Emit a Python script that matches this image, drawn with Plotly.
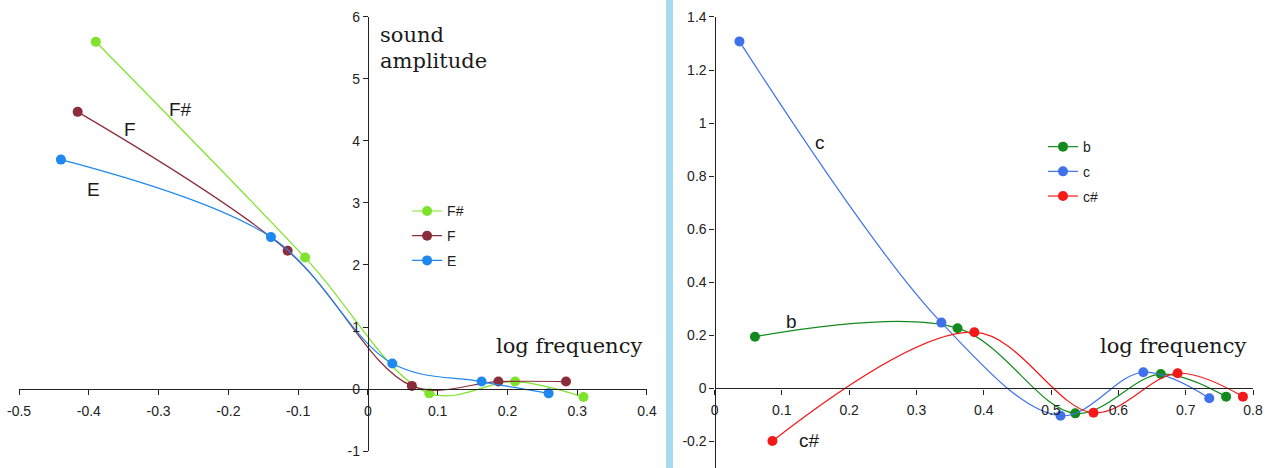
import plotly.graph_objects as go

# ---- left panel: notes E, F, F# ----
fs_x = [-0.390, -0.090, 0.088, 0.211, 0.309]
fs_y = [5.60, 2.12, -0.07, 0.12, -0.13]
f_x = [-0.416, -0.115, 0.063, 0.187, 0.284]
f_y = [4.47, 2.23, 0.05, 0.12, 0.12]
e_x = [-0.440, -0.139, 0.035, 0.163, 0.259]
e_y = [3.70, 2.45, 0.41, 0.12, -0.07]

# ---- right panel: notes b, c, c# ----
b_x = [0.060, 0.361, 0.536, 0.663, 0.760]
b_y = [0.195, 0.227, -0.094, 0.054, -0.031]
c_x = [0.037, 0.337, 0.514, 0.637, 0.735]
c_y = [1.308, 0.248, -0.103, 0.061, -0.037]
cs_x = [0.086, 0.386, 0.563, 0.688, 0.785]
cs_y = [-0.198, 0.212, -0.092, 0.057, -0.031]

# ---- tick values / labels ----
left_xticks = [-0.5, -0.4, -0.3, -0.2, -0.1, 0, 0.1, 0.2, 0.3, 0.4]
left_xlabels = ["-0.5", "-0.4", "-0.3", "-0.2", "-0.1", "0", "0.1", "0.2", "0.3", "0.4"]
left_yticks = [-1, 0, 1, 2, 3, 4, 5, 6]
left_ylabels = ["-1", "0", "1", "2", "3", "4", "5", "6"]
right_xticks = [0, 0.1, 0.2, 0.3, 0.4, 0.5, 0.6, 0.7, 0.8]
right_xlabels = ["0", "0.1", "0.2", "0.3", "0.4", "0.5", "0.6", "0.7", "0.8"]
right_yticks = [-0.2, 0, 0.2, 0.4, 0.6, 0.8, 1.0, 1.2, 1.4]
right_ylabels = ["-0.2", "0", "0.2", "0.4", "0.6", "0.8", "1", "1.2", "1.4"]

SANS = "Liberation Sans, Arial, sans-serif"
SERIF = "DejaVu Serif, serif"
INK = "#222222"

# panel geometry (paper fractions)
L_XDOM, L_XRNG = [0.0148, 0.5027], [-0.5, 0.4]
L_YDOM, L_YRNG = [0.0363, 0.9637], [-1, 6]
R_XDOM, R_XRNG = [0.5552, 0.9736], [0, 0.8]
R_YDOM, R_YRNG = [0.0, 0.9637], [-0.3, 1.4]


def zero_pos(dom, rng):
    """Paper position of value 0 along an axis."""
    return dom[0] + (0 - rng[0]) / (rng[1] - rng[0]) * (dom[1] - dom[0])


fig = go.Figure()


def add_series(x, y, name, color, xa, ya, legend):
    fig.add_trace(go.Scatter(
        x=x, y=y, name=name, mode="lines+markers",
        line=dict(color=color, width=1.2, shape="spline", smoothing=1.0),
        marker=dict(color=color, size=10),
        xaxis=xa, yaxis=ya, legend=legend, legendgroup=name,
        cliponaxis=False,
    ))


add_series(fs_x, fs_y, "F#", "#7ee32a", "x", "y", "legend")
add_series(f_x, f_y, "F", "#8c2d3c", "x", "y", "legend")
add_series(e_x, e_y, "E", "#1e88f0", "x", "y", "legend")
add_series(b_x, b_y, "b", "#138a1e", "x2", "y2", "legend2")
add_series(c_x, c_y, "c", "#3f71ec", "x2", "y2", "legend2")
add_series(cs_x, cs_y, "c#", "#f41818", "x2", "y2", "legend2")

axis_common = dict(
    showline=True, linecolor=INK, linewidth=1.3, ticks="outside", ticklen=5,
    tickwidth=1.2, tickcolor=INK, showgrid=False, zeroline=False,
    tickfont=dict(family=SANS, size=14, color=INK), tickmode="array",
    fixedrange=True, automargin=False,
)

fig.update_layout(
    xaxis=dict(domain=L_XDOM, range=L_XRNG, anchor="free",
               position=zero_pos(L_YDOM, L_YRNG), ticklabelstandoff=4,
               tickvals=left_xticks, ticktext=left_xlabels, **axis_common),
    yaxis=dict(domain=L_YDOM, range=L_YRNG, anchor="free",
               position=zero_pos(L_XDOM, L_XRNG),
               tickvals=left_yticks, ticktext=left_ylabels, **axis_common),
    xaxis2=dict(domain=R_XDOM, range=R_XRNG, anchor="free",
                position=zero_pos(R_YDOM, R_YRNG), ticklabelstandoff=4,
                tickvals=right_xticks, ticktext=right_xlabels, **axis_common),
    yaxis2=dict(domain=R_YDOM, range=R_YRNG, anchor="free",
                position=zero_pos(R_XDOM, R_XRNG),
                tickvals=right_yticks, ticktext=right_ylabels, **axis_common),
    legend=dict(x=0.3163, y=0.5825, xanchor="left", yanchor="top",
                bgcolor="rgba(0,0,0,0)", font=dict(family=SANS, size=14, color=INK),
                traceorder="grouped", tracegroupgap=3.5, itemwidth=30),
    legend2=dict(x=0.8104, y=0.72, xanchor="left", yanchor="top",
                 bgcolor="rgba(0,0,0,0)", font=dict(family=SANS, size=14, color=INK),
                 traceorder="grouped", tracegroupgap=3.5, itemwidth=30),
    showlegend=True,
    paper_bgcolor="white", plot_bgcolor="white",
    width=1287, height=468,
    margin=dict(l=0, r=0, t=0, b=0, autoexpand=False),
)

# light blue divider between the two panels
fig.add_shape(type="rect", xref="paper", yref="paper",
              x0=0.5175, x1=0.5229, y0=0, y1=1,
              fillcolor="#a5dbef", line=dict(width=0), layer="below")

serif_font = dict(family=SERIF, size=21, color="#1a1a1a")
label_font = dict(family=SANS, size=19, color="#1a1a1a")

annotations = [
    dict(text="sound", x=0.2935, y=0.925, xref="paper", yref="paper",
         xanchor="left", yanchor="middle", font=serif_font),
    dict(text="amplitude", x=0.2935, y=0.869, xref="paper", yref="paper",
         xanchor="left", yanchor="middle", font=serif_font),
    dict(text="log frequency", x=0.4421, y=0.261, xref="paper", yref="paper",
         xanchor="center", yanchor="middle", font=serif_font),
    dict(text="log frequency", x=0.9114, y=0.261, xref="paper", yref="paper",
         xanchor="center", yanchor="middle", font=serif_font),
    # series names written beside the curves
    dict(text="F#", x=-0.269, y=4.51, xref="x", yref="y", font=label_font),
    dict(text="F", x=-0.341, y=4.18, xref="x", yref="y", font=label_font),
    dict(text="E", x=-0.394, y=3.22, xref="x", yref="y", font=label_font),
    dict(text="c", x=0.157, y=0.926, xref="x2", yref="y2", font=label_font),
    dict(text="b", x=0.114, y=0.254, xref="x2", yref="y2", font=label_font),
    dict(text="c#", x=0.141, y=-0.195, xref="x2", yref="y2", font=label_font),
]
for a in annotations:
    a.setdefault("showarrow", False)
    fig.add_annotation(**a)

fig.write_html("out.html")
